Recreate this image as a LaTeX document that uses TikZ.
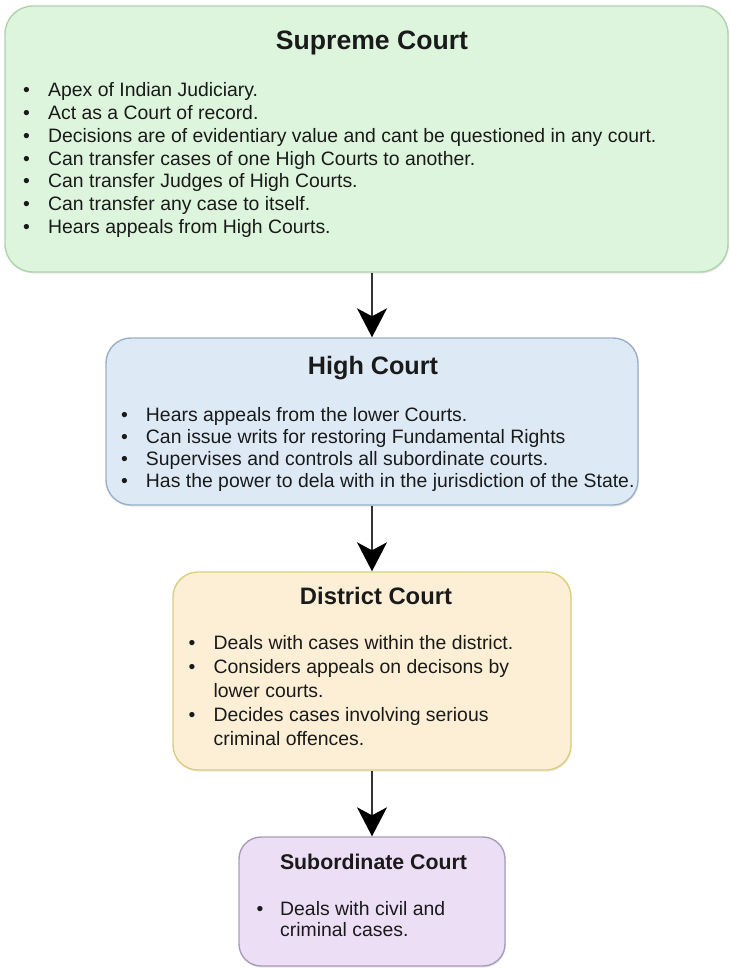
\documentclass[tikz,border=0pt]{standalone}
\usepackage{fontspec}
\setmainfont{Liberation Sans}
\usetikzlibrary{arrows.meta,shadows}

\definecolor{supfill}{HTML}{DDF5DC}
\definecolor{supline}{HTML}{AFD3AB}
\definecolor{highfill}{HTML}{DDEAF6}
\definecolor{highline}{HTML}{9AAFC5}
\definecolor{distfill}{HTML}{FCEFD6}
\definecolor{distline}{HTML}{D8D07E}
\definecolor{subfill}{HTML}{EBDEF5}
\definecolor{subline}{HTML}{A99CBA}
\definecolor{inkgrey}{HTML}{1A1A1A}
\definecolor{arrowgrey}{HTML}{333333}

\tikzset{
  courtbox/.style={draw, line width=1.4pt, inner sep=0pt,
    drop shadow={opacity=0.18, shadow xshift=0.8pt, shadow yshift=-1.6pt}},
  title/.style={anchor=base, inner sep=0pt, text=inkgrey, font=\bfseries\fontsize{#1}{#1}\selectfont},
  bullets/.style={anchor=base west, inner sep=0pt, text=inkgrey, align=left,
    font=\fontsize{19.4}{#1}\selectfont},
  flow/.style={draw=arrowgrey, line width=1.8pt,
    -{Stealth[length=29pt, width=30pt, inset=8pt, black]}},
}

\begin{document}
\begin{tikzpicture}[x=1pt,y=-1pt]
\useasboundingbox (0,0) rectangle (730,968);

% court boxes
\node[courtbox, fill=supfill, draw=supline, rounded corners=28pt,
      minimum width=723pt, minimum height=266pt] (sup) at (366.5,139) {};
\node[courtbox, fill=highfill, draw=highline, rounded corners=25pt,
      minimum width=532pt, minimum height=167pt] (high) at (372,421.5) {};
\node[courtbox, fill=distfill, draw=distline, rounded corners=25pt,
      minimum width=398pt, minimum height=198pt] (dist) at (372,671) {};
\node[courtbox, fill=subfill, draw=subline, rounded corners=22pt,
      minimum width=266pt, minimum height=129pt] (sub) at (372,901.5) {};

% titles
\node[title=26.6] (suptitle) at (372,49.3) {Supreme Court};
\node[title=25.2] (hightitle) at (373,374.3) {High Court};
\node[title=23.8] (disttitle) at (376,604.3) {District Court};
\node[title=21.3] (subtitle) at (373.5,869.3) {Subordinate Court};

% bullet lists
\node[bullets=22.8] (suplist) at (23,96.7) {%
\begin{tabular}[t]{@{}p{25pt}@{}l@{}}
\textbullet & Apex of Indian Judiciary.\\
\textbullet & Act as a Court of record.\\
\textbullet & Decisions are of evidentiary value and cant be questioned in any court.\\
\textbullet & Can transfer cases of one High Courts to another.\\
\textbullet & Can transfer Judges of High Courts.\\
\textbullet & Can transfer any case to itself.\\
\textbullet & Hears appeals from High Courts.
\end{tabular}};

\node[bullets=21.9] (highlist) at (120.8,421.7) {%
\begin{tabular}[t]{@{}p{25pt}@{}l@{}}
\textbullet & Hears appeals from the lower Courts.\\
\textbullet & Can issue writs for restoring Fundamental Rights\\
\textbullet & Supervises and controls all subordinate courts.\\
\textbullet & Has the power to dela with in the jurisdiction of the State.
\end{tabular}};

\node[bullets=24] (distlist) at (188.4,649.3) {%
\begin{tabular}[t]{@{}p{25pt}@{}l@{}}
\textbullet & Deals with cases within the district.\\
\textbullet & Considers appeals on decisons by\\
 & lower courts.\\
\textbullet & Decides cases involving serious\\
 & criminal offences.
\end{tabular}};

\node[bullets=21.7] (sublist) at (256.4,915) {%
\begin{tabular}[t]{@{}p{23.6pt}@{}l@{}}
\textbullet & Deals with civil and\\
 & criminal cases.
\end{tabular}};

% hierarchy arrows
\draw[flow] (sup.south -| high.north) -- (high.north);
\draw[flow] (high.south) -- (dist.north);
\draw[flow] (dist.south) -- (sub.north);
\end{tikzpicture}
\end{document}
